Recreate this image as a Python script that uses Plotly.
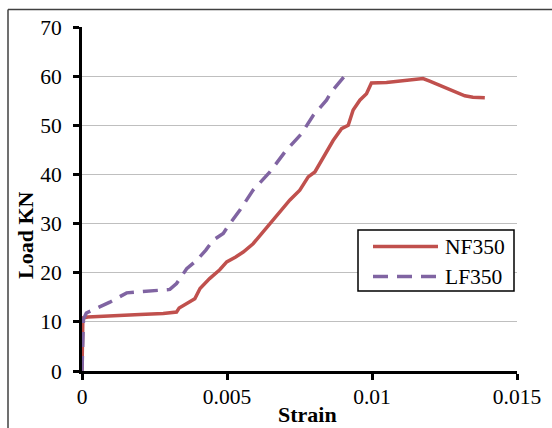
import plotly.graph_objects as go

# Load-strain curves for the two beams
nf350_strain = [0.0, 0.00002, 0.00003, 0.0002, 0.0005, 0.0010, 0.0020, 0.0028, 0.00326,
                0.00335, 0.0036, 0.00389, 0.00407, 0.0044, 0.00475, 0.00499, 0.0053,
                0.00556, 0.0059, 0.00625, 0.00659, 0.0069, 0.00717, 0.00751, 0.0078,
                0.00803, 0.00837, 0.00866, 0.00895, 0.00918, 0.00935, 0.00958, 0.00981,
                0.00998, 0.0105, 0.0113, 0.01176, 0.01199, 0.01268, 0.0132, 0.01348, 0.01389]
nf350_load = [0.0, 6.0, 10.8, 11.0, 11.1, 11.3, 11.5, 11.7, 12.0,
              12.8, 13.6, 14.7, 16.8, 18.8, 20.6, 22.2, 23.2,
              24.2, 25.9, 28.3, 30.7, 33.0, 34.8, 36.8, 39.5,
              40.5, 43.9, 46.9, 49.3, 50.0, 53.1, 55.1, 56.4,
              58.6, 58.7, 59.2, 59.5, 59.0, 57.3, 56.0, 55.7, 55.6]

lf350_strain = [0.0, 0.00001, 0.00005, 0.00015, 0.00033, 0.00096, 0.00154, 0.00223, 0.00303,
                0.00326, 0.00361, 0.00395, 0.00427, 0.00452, 0.00487, 0.0051, 0.00544,
                0.0059, 0.00648, 0.0070, 0.00757, 0.00797, 0.00843, 0.0086, 0.00889, 0.00912]
lf350_load = [0.0, 5.0, 10.5, 11.8, 12.3, 14.0, 15.9, 16.3, 16.6,
              17.8, 20.8, 22.5, 24.6, 26.6, 28.0, 30.0, 32.7,
              36.8, 40.5, 44.6, 48.3, 52.0, 55.1, 56.8, 58.8, 60.5]

series_names = ["NF350", "LF350"]
series_colors = ["#C0504D", "#8064A2"]

x_ticks = [0, 0.005, 0.01, 0.015]
x_tick_text = ["0", "0.005", "0.01", "0.015"]
y_ticks = [0, 10, 20, 30, 40, 50, 60, 70]

FONT = "Liberation Serif, Times New Roman, serif"
TICK_SIZE = 21.5
TITLE_SIZE = 22
W, H = 552, 428
L, R, T, B = 82, 35, 27, 57
PW, PH = W - L - R, H - T - B


def px_x(p):
    return (p - L) / PW


def px_y(p):
    return (H - B - p) / PH


fig = go.Figure()
fig.add_trace(go.Scatter(x=nf350_strain, y=nf350_load, mode="lines", name=series_names[0],
                         line=dict(color=series_colors[0], width=3.5), showlegend=False))
fig.add_trace(go.Scatter(x=lf350_strain, y=lf350_load, mode="lines", name=series_names[1],
                         line=dict(color=series_colors[1], width=3.5, dash="15px,9px"),
                         showlegend=False))

shapes = []
# outer chart frame (left and top edges)
shapes.append(dict(type="line", xref="paper", yref="paper", x0=px_x(8), x1=px_x(8),
                   y0=px_y(9.5), y1=px_y(440), line=dict(color="#404040", width=1.5)))
shapes.append(dict(type="line", xref="paper", yref="paper", x0=px_x(8), x1=px_x(560),
                   y0=px_y(9.5), y1=px_y(9.5), line=dict(color="#404040", width=1.5)))
# legend box
shapes.append(dict(type="rect", xref="paper", yref="paper", x0=px_x(358), x1=px_x(514),
                   y0=px_y(291), y1=px_y(230), line=dict(color="black", width=1.5),
                   fillcolor="white", layer="above"))
shapes.append(dict(type="line", xref="paper", yref="paper", x0=px_x(373), x1=px_x(438),
                   y0=px_y(246.5), y1=px_y(246.5),
                   line=dict(color=series_colors[0], width=3.5), layer="above"))
shapes.append(dict(type="line", xref="paper", yref="paper", x0=px_x(373), x1=px_x(438),
                   y0=px_y(276.5), y1=px_y(276.5),
                   line=dict(color=series_colors[1], width=3.5, dash="15px,9px"), layer="above"))

annotations = [
    dict(text=series_names[0], xref="paper", yref="paper", x=px_x(443), y=px_y(246.5),
         xanchor="left", yanchor="middle", showarrow=False,
         font=dict(family=FONT, size=TICK_SIZE, color="black")),
    dict(text=series_names[1], xref="paper", yref="paper", x=px_x(443), y=px_y(276.5),
         xanchor="left", yanchor="middle", showarrow=False,
         font=dict(family=FONT, size=TICK_SIZE, color="black")),
    dict(text="<b>Strain</b>", xref="paper", yref="paper", x=px_x(307), y=px_y(414),
         xanchor="center", yanchor="middle", showarrow=False,
         font=dict(family=FONT, size=TITLE_SIZE, color="black")),
    dict(text="<b>Load KN</b>", xref="paper", yref="paper", x=px_x(25), y=px_y(235),
         xanchor="center", yanchor="middle", showarrow=False, textangle=-90,
         font=dict(family=FONT, size=TITLE_SIZE, color="black")),
]

fig.update_layout(
    width=W, height=H,
    margin=dict(l=L, r=R, t=T, b=B),
    paper_bgcolor="white", plot_bgcolor="white",
    font=dict(family=FONT, size=TICK_SIZE, color="black"),
    shapes=shapes, annotations=annotations,
    showlegend=False,
)
fig.update_xaxes(range=[0, 0.015], tickvals=x_ticks, ticktext=x_tick_text,
                 showgrid=False, zeroline=False, showline=True, linecolor="black",
                 linewidth=3, ticks="outside", ticklen=6, tickwidth=3, tickcolor="black",
                 ticklabelstandoff=-2)
fig.update_yaxes(range=[0, 70], tickvals=y_ticks, showgrid=True, gridcolor="#BFBFBF",
                 gridwidth=1, zeroline=False, showline=True, linecolor="black",
                 linewidth=3, ticks="outside", ticklen=6, tickwidth=3, tickcolor="black",
                 ticklabelstandoff=7)

fig.write_html("out.html")
